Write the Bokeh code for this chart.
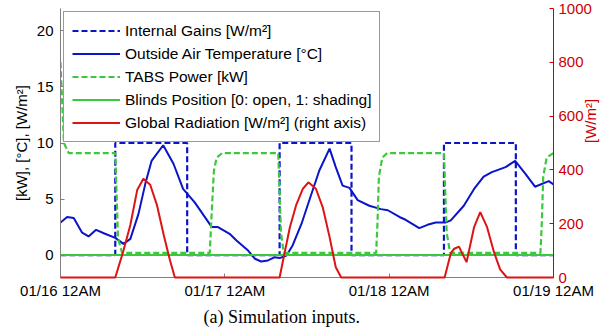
import math
from bokeh.plotting import figure
from bokeh.models import Range1d, LinearAxis, FixedTicker, Legend, LegendItem, Title
from bokeh.embed import file_html
from bokeh.resources import INLINE

# ---- data (hours since 01/16 12AM) ----
x_ticks = [0, 24, 48, 72]
x_tick_labels = ["01/16 12AM", "01/17 12AM", "01/18 12AM", "01/19 12AM"]
left_ticks = [0, 5, 10, 15, 20]
rad_ticks = [0, 200, 400, 600, 800, 1000]

ig_hours = [0, 8.0, 8.0, 18.5, 18.5, 32.0, 32.0, 42.5, 42.5, 56.0, 56.0, 66.5, 66.5, 72]
internal_gains = [0, 0, 10, 10, 0, 0, 10, 10, 0, 0, 10, 10, 0, 0]

temp_hours = [0, 0.97, 1.93, 3.16, 4.1, 5.2, 6.5, 8.0, 9.2, 10.2,
              11.4, 12.4, 13.3, 15.0, 16.5, 17.9, 19.6, 22.1, 23.0, 24.7,
              25.7, 27.4, 28.4, 29.3, 30.3, 31.3, 32.0, 33.0, 33.9, 35.2,
              36.4, 37.8, 39.3, 40.2, 41.2, 42.2, 43.4, 45.1, 46.8, 47.8,
              49.5, 50.4, 52.4, 53.6, 54.8, 56.2, 57.0, 58.9, 60.4, 61.8,
              63.0, 65.0, 66.4, 67.9, 69.3, 71.3, 72.0]
outside_temp = [2.9, 3.4, 3.3, 2.0, 1.66, 2.25, 1.9, 1.54, 1.0, 1.45,
                3.7, 6.4, 8.4, 9.8, 8.15, 5.9, 4.7, 2.5, 2.5, 1.9,
                1.3, 0.4, -0.33, -0.57, -0.48, -0.19, -0.27, -0.04, 0.86, 2.8,
                5.0, 7.55, 9.5, 7.85, 6.2, 6.0, 4.9, 4.4, 4.1, 4.0,
                3.4, 3.15, 2.4, 2.7, 2.9, 2.9, 3.1, 4.4, 5.9, 7.0,
                7.4, 7.85, 8.4, 7.25, 6.1, 6.6, 6.3]

tabs_hours = [0, 0.5, 1.2, 8.0, 8.4, 9.0, 21.8, 22.1, 22.4, 22.8,
              23.6, 31.8, 32.2, 32.6, 46.1, 46.3, 46.5, 47.0, 47.7, 56.0,
              56.4, 56.9, 70.1, 70.3, 70.5, 71.0, 72.0]
tabs_power = [17.2, 10.0, 9.1, 9.1, 1.5, 0.2, 0.2, 4.0, 7.5, 8.7,
              9.1, 9.1, 2.0, 0.2, 0.2, 3.0, 7.0, 8.7, 9.1, 9.1,
              2.0, 0.2, 0.2, 3.0, 7.0, 8.7, 9.1]

blinds_hours = [0, 72]
blinds_pos = [0, 0]

rad_hours = [0, 8.0, 9.2, 10.2, 11.2, 12.1, 13.1, 14.1, 15.1, 16.0,
             16.7, 32.0, 32.5, 33.5, 34.4, 35.4, 36.2, 37.3, 38.3, 39.3,
             40.2, 41.0, 56.1, 57.0, 57.5, 58.2, 58.7, 59.3, 60.4, 61.3,
             62.3, 63.3, 64.2, 65.2, 72]
global_rad = [0, 0, 100, 195, 325, 367, 345, 268, 155, 63,
              0, 0, 63, 187, 268, 330, 354, 330, 261, 150,
              38, 0, 0, 90, 107, 115, 88, 57, 187, 243,
              187, 95, 30, 0, 0]

BLUE = "#0a14c8"
GREEN = "#3cc83c"
RED = "#dc1414"
AXRED = "#cc0000"
FONT = "Liberation Sans"

p = figure(width=610, height=333, output_backend="svg", toolbar_location=None,
           x_range=Range1d(0, 72), y_range=Range1d(-2, 22),
           min_border_left=60, min_border_right=0, min_border_top=8, min_border_bottom=56)
p.extra_y_ranges = {"rad": Range1d(0, 1000)}
p.outline_line_color = None
p.xgrid.visible = False
p.ygrid.visible = False
p.background_fill_color = "white"
p.border_fill_color = "white"

# bottom axis
xa = p.xaxis[0]
xa.ticker = FixedTicker(ticks=x_ticks)
xa.major_label_overrides = {t: l for t, l in zip(x_ticks, x_tick_labels)}
xa.axis_line_color = "#808080"
xa.major_tick_line_color = "#808080"
xa.major_tick_in = 4
xa.major_tick_out = 0
xa.minor_tick_line_color = None
xa.major_label_text_font = FONT
xa.major_label_text_font_size = "15px"
xa.major_label_text_color = "black"
xa.major_label_standoff = 4

# left axis
ya = p.yaxis[0]
ya.ticker = FixedTicker(ticks=left_ticks)
ya.axis_label = "[kW], [°C], [W/m²]"
ya.axis_label_text_font = FONT
ya.axis_label_text_font_size = "15px"
ya.axis_label_text_font_style = "normal"
ya.axis_label_text_color = "black"
ya.axis_label_standoff = 4
ya.axis_line_color = "#808080"
ya.major_tick_line_color = "#808080"
ya.major_tick_in = 4
ya.major_tick_out = 0
ya.minor_tick_line_color = None
ya.major_label_text_font = FONT
ya.major_label_text_font_size = "15px"
ya.major_label_text_color = "black"
ya.major_label_standoff = 7

# right axis
ra = LinearAxis(y_range_name="rad", ticker=FixedTicker(ticks=rad_ticks))
ra.axis_label = "[W/m²]"
ra.axis_label_orientation = math.pi / 2
ra.axis_label_text_font = FONT
ra.axis_label_text_font_size = "15px"
ra.axis_label_text_font_style = "normal"
ra.axis_label_text_color = AXRED
ra.axis_label_standoff = -4
ra.axis_line_color = AXRED
ra.major_tick_line_color = AXRED
ra.major_tick_in = 4
ra.major_tick_out = 0
ra.minor_tick_line_color = None
ra.major_label_text_font = FONT
ra.major_label_text_font_size = "15px"
ra.major_label_text_color = AXRED
ra.major_label_standoff = 5
p.add_layout(ra, "right")

r_ig = p.line(ig_hours, internal_gains, line_color=BLUE, line_width=2.2, line_dash="6 3")
r_t = p.line(temp_hours, outside_temp, line_color=BLUE, line_width=2)
r_tabs = p.line(tabs_hours, tabs_power, line_color=GREEN, line_width=2.2, line_dash="6 3")
r_bl = p.line(blinds_hours, blinds_pos, line_color=GREEN, line_width=2)
r_rad = p.line(rad_hours, global_rad, line_color=RED, line_width=2, y_range_name="rad", level="overlay")

legend = Legend(items=[
    LegendItem(label="Internal Gains [W/m²]", renderers=[r_ig]),
    LegendItem(label="Outside Air Temperature [°C]", renderers=[r_t]),
    LegendItem(label="TABS Power [kW]", renderers=[r_tabs]),
    LegendItem(label="Blinds Position [0: open, 1: shading]", renderers=[r_bl]),
    LegendItem(label="Global Radiation [W/m²] (right axis)", renderers=[r_rad]),
], location="top_left")
legend.label_text_font = FONT
legend.label_text_font_size = "15.5px"
legend.label_text_color = "black"
legend.glyph_width = 48
legend.glyph_height = 21
legend.label_height = 21
legend.spacing = 2
legend.padding = 8
legend.margin = 3
legend.label_standoff = 5
legend.border_line_color = "#333333"
legend.border_line_width = 1
legend.background_fill_color = "white"
legend.background_fill_alpha = 1.0
p.add_layout(legend)

cap = Title(text="(a)  Simulation inputs.", align="left", offset=143,
            text_font="Liberation Serif", text_font_size="18px",
            text_font_style="normal", text_color="black", standoff=7)
p.add_layout(cap, "below")

open("out.html", "w").write(file_html(p, INLINE))
